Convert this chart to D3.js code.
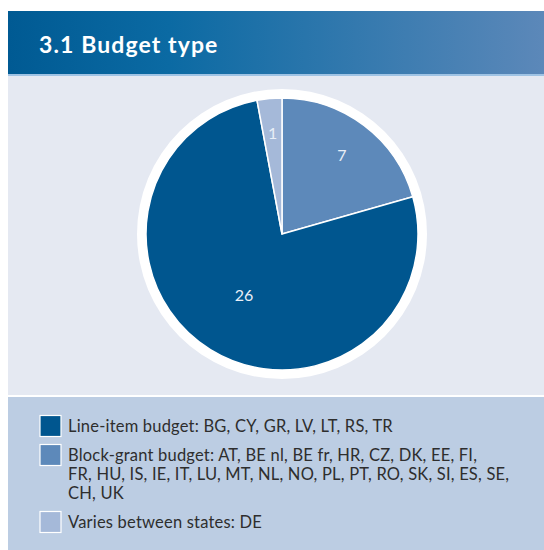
<!DOCTYPE html>
<html>
<head>
<meta charset="utf-8">
<script src="https://cdn.jsdelivr.net/npm/d3@7/dist/d3.min.js"></script>
<style>
  body { margin: 0; background: #fff; }
  svg { display: block; font-family: Lato, "Open Sans", sans-serif; }
</style>
</head>
<body>
<div id="chart"></div>
<script>
var width = 544, height = 550;

// chart data
var title = "3.1 Budget type";
var sliceValues = [7, 26, 1];
var sliceColors = ["#5d89ba", "#00568f", "#a5b9d9"];
var legendColors = ["#00568f", "#5d89ba", "#a5b9d9"];
var legendLines = [
	["Line-item budget: BG, CY, GR, LV, LT, RS, TR"],
	["Block-grant budget: AT, BE nl, BE fr, HR, CZ, DK, EE, FI,",
	 "FR, HU, IS, IE, IT, LU, MT, NL, NO, PL, PT, RO, SK, SI, ES, SE,",
	 "CH, UK"],
	["Varies between states: DE"]
];

var svg = d3.select("#chart").append("svg")
	.attr("width", width)
	.attr("height", height);

var defs = svg.append("defs");
var grad = defs.append("linearGradient").attr("id", "headGrad");
grad.append("stop").attr("offset", "0%").attr("stop-color", "#005a93");
grad.append("stop").attr("offset", "30%").attr("stop-color", "#0b6aa3");
grad.append("stop").attr("offset", "100%").attr("stop-color", "#5c88b9");

// header band
svg.append("rect")
	.attr("x", 8).attr("y", 11)
	.attr("width", width - 8).attr("height", 63)
	.style("fill", "url(#headGrad)");
svg.append("rect")
	.attr("x", 8).attr("y", 74)
	.attr("width", width - 8).attr("height", 2)
	.style("fill", "#9fc3e4");

svg.append("text")
	.attr("x", 39).attr("y", 52.5)
	.text(title)
	.style("fill", "#fff")
	.style("font-weight", "bold")
	.style("font-size", "23px")
	.style("letter-spacing", "1.1px");

// pie panel
svg.append("rect")
	.attr("x", 8).attr("y", 76)
	.attr("width", width - 8).attr("height", 319)
	.style("fill", "#e5e9f2");

// legend panel
svg.append("rect")
	.attr("x", 8).attr("y", 397)
	.attr("width", width - 8).attr("height", height - 397)
	.style("fill", "#bccde3");

var cx = 282, cy = 234, radius = 136;

var g = svg.append("g")
	.attr("transform", "translate(" + cx + "," + cy + ")");

g.append("circle")
	.attr("r", radius + 9)
	.style("fill", "#fff");

var pie = d3.pie().sort(null).value(function(d){ return d; });
var arcs = pie(sliceValues);
var arc = d3.arc().innerRadius(0).outerRadius(radius);

g.selectAll("path.slice")
	.data(arcs)
	.enter()
	.append("path")
	.attr("class", "slice")
	.attr("d", arc)
	.style("fill", function(d, i){ return sliceColors[i]; })
	.style("stroke", "#fff")
	.style("stroke-width", 1.5)
	.style("stroke-linejoin", "round");

// labels sit at different depths in each slice
var labelDepth = [0.73, 0.53, 0.745];
g.selectAll("text.val")
	.data(arcs)
	.enter()
	.append("text")
	.attr("class", "val")
	.attr("transform", function(d, i){
		var a = (d.startAngle + d.endAngle) / 2;
		var r = radius * labelDepth[i];
		return "translate(" + (r * Math.sin(a)) + "," + (-r * Math.cos(a)) + ")";
	})
	.attr("dy", "0.38em")
	.attr("text-anchor", "middle")
	.text(function(d){ return d.value; })
	.style("fill", "#e9eff7")
	.style("font-size", "16px");

// legend
var lineH = 19, itemGap = 10;
var y = 431.5;
legendLines.forEach(function(lines, i){
	svg.append("rect")
		.attr("x", 40).attr("y", y - 16)
		.attr("width", 21).attr("height", 21)
		.style("fill", legendColors[i])
		.style("stroke", "#fff")
		.style("stroke-width", 1.2);
	lines.forEach(function(t, j){
		svg.append("text")
			.attr("x", 68).attr("y", y + j * lineH)
			.text(t)
			.style("fill", "#2e2e2e")
			.style("font-size", "16.5px")
			.style("letter-spacing", "0.2px");
	});
	y += lines.length * lineH + itemGap;
});
</script>
</body>
</html>
